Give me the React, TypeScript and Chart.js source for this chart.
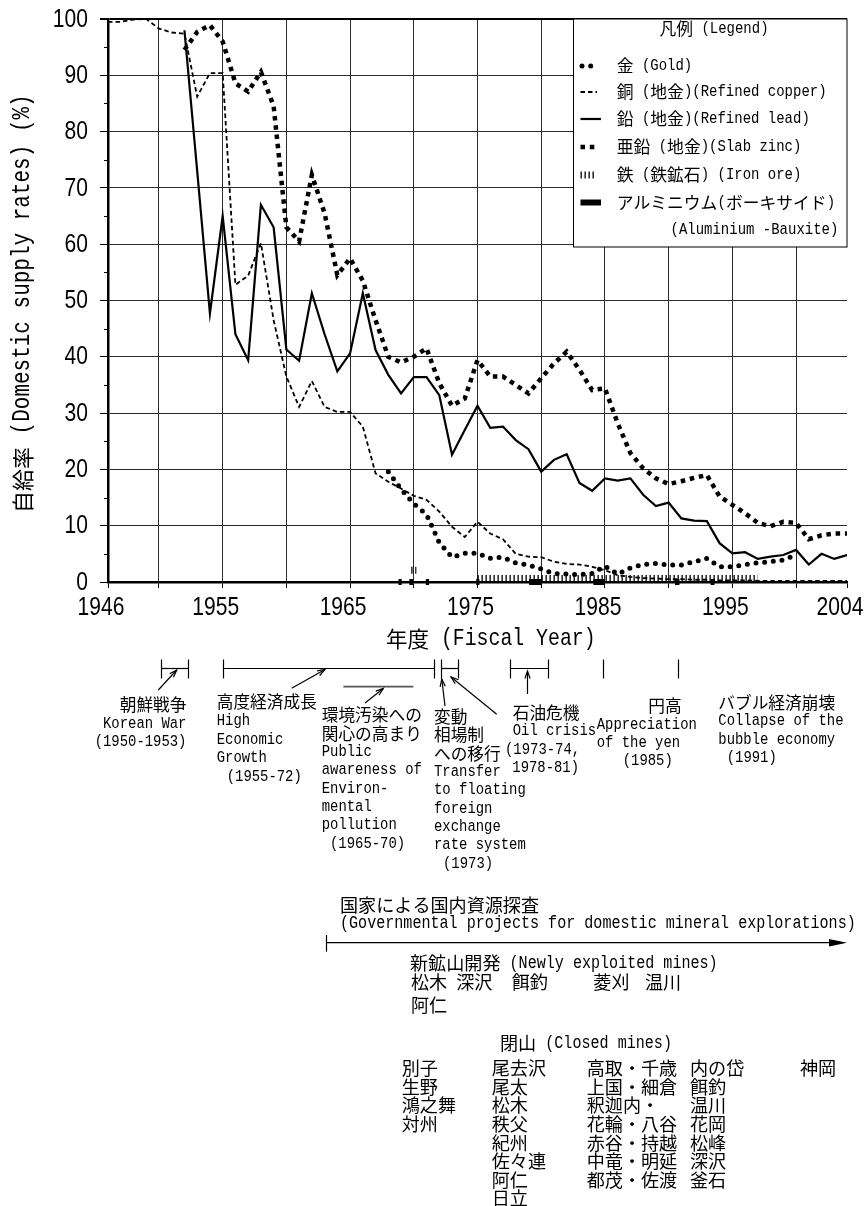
import React, { useEffect, useRef } from 'react';
import { Chart, registerables } from 'chart.js';

Chart.register(...registerables);

// Fiscal years on the x axis
const YEARS = [
  1946, 1947, 1948, 1949, 1950, 1951, 1952, 1953, 1954, 1955,
  1956, 1957, 1958, 1959, 1960, 1961, 1962, 1963, 1964, 1965,
  1966, 1967, 1968, 1969, 1970, 1971, 1972, 1973, 1974, 1975,
  1976, 1977, 1978, 1979, 1980, 1981, 1982, 1983, 1984, 1985,
  1986, 1987, 1988, 1989, 1990, 1991, 1992, 1993, 1994, 1995,
  1996, 1997, 1998, 1999, 2000, 2001, 2002, 2003, 2004,
];

// Domestic supply rates (%), one value per fiscal year (null = no data)
const GOLD = [
  null, null, null, null, null, null, null, null, null, null,
  null, null, null, null, null, null, null, null, null, null,
  null, null, 19.6, 16.5, 13.9, 12.0, 7.0, 4.4, 5.1, 5.1,
  4.2, 4.4, 3.4, 3.0, 2.3, 1.5, 1.4, 1.3, 1.5, 2.8,
  1.4, 2.5, 3.1, 3.3, 3.0, 3.0, 3.6, 4.2, 2.7, 2.7,
  3.1, 3.4, 3.6, 3.9, 4.8, null, null, null, null,
];

const COPPER = [
  99.5, 99.5, 99.9, 100, 98.3, 97.6, 97.4, 86.2, 90.4, 90.4,
  52.8, 54.4, 60.2, 46.5, 36.5, 31.1, 35.7, 31.1, 30.2, 30.2,
  27.6, 19.3, 17.8, 16.6, 15.3, 14.6, 12.5, 9.8, 8.0, 10.7,
  8.6, 7.6, 5.0, 4.5, 4.4, 3.6, 3.2, 3.1, 2.7, 2.1,
  1.2, 0.9, 0.7, 0.6, 0.5, 0.5, 0.4, 0.4, 0.3, 0.3,
  0.3, 0.2, 0.2, 0.2, 0.2, 0.2, 0.2, 0.2, 0.2,
];

const LEAD = [
  null, null, null, null, null, null, 98, 73, 47.7, 65,
  44, 39.4, 67, 63, 41.3, 39.3, 51.3, 44, 37.4, 40.6,
  51.3, 41.2, 36.8, 33.5, 36.4, 36.4, 33.2, 22.6, 27.0, 31.3,
  27.4, 27.6, 25.2, 23.6, 19.6, 21.7, 22.7, 17.6, 16.2, 18.4,
  18.0, 18.4, 15.5, 13.5, 14.1, 11.3, 10.9, 10.8, 6.9, 5.1,
  5.3, 4.1, 4.5, 4.8, 5.7, 3.1, 5.0, 4.1, 4.8,
];

const ZINC = [
  null, null, null, null, null, null, 94.5, 97.7, 98.9, 96,
  88.6, 87.1, 90.6, 84.5, 63, 60.5, 72.3, 65.5, 54.5, 57.5,
  53.5, 46.5, 40.0, 39.0, 40.0, 41.5, 35.3, 31.3, 32.6, 39.4,
  36.5, 36.5, 35.0, 33.5, 36.2, 38.8, 40.9, 37.7, 34.1, 34.4,
  28.2, 22.9, 20.2, 18.4, 17.4, 17.9, 18.5, 19.0, 15.2, 13.7,
  12.2, 10.5, 9.9, 10.7, 10.5, 7.6, 8.3, 8.6, 8.6,
];

// Iron ore: a short run around 1970 and a flat run 1975-1997
const IRON_YEARS = [
  1969.8, 1970.2, 1972,
  1975, 1976, 1977, 1978, 1979, 1980, 1981, 1982, 1983, 1984, 1985,
  1986, 1987, 1988, 1989, 1990, 1991, 1992, 1993, 1994, 1995, 1996, 1997,
];
const IRON_VALUES = [
  2.1, 2.1, null,
  0.6, 0.6, 0.6, 0.6, 0.6, 0.6, 0.6, 0.6, 0.6, 0.6, 0.6,
  0.6, 0.6, 0.6, 0.6, 0.6, 0.6, 0.6, 0.6, 0.6, 0.6, 0.6, 0.6,
];

// Aluminium (bauxite): rate is 0, drawn only over these fiscal-year spans
const ALUMINIUM_FROM = [1968.8, 1969.65, 1970.95, 1974.9, 1979.05, 1984.1, 1990.5, 1993.3];
const ALUMINIUM_TO = [1969.05, 1969.95, 1971.2, 1975.15, 1980.05, 1985.0, 1990.85, 1993.6];
const ALUMINIUM_VALUE = 0;

// Axis ticks
const X_TICKS = [1946, 1950, 1955, 1960, 1965, 1970, 1975, 1980, 1985, 1990, 1995, 2000, 2004];
const X_LABELED = [1946, 1955, 1965, 1975, 1985, 1995, 2004];
const Y_MINOR = [5, 15, 25, 35, 45, 55, 65, 75, 85, 95];

// Series names
const LABELS = [
  '金 (Gold)',
  '銅 (地金)(Refined copper)',
  '鉛 (地金)(Refined lead)',
  '亜鉛 (地金)(Slab zinc)',
  '鉄 (鉄鉱石) (Iron ore)',
  'アルミニウム(ボーキサイド)\n(Aluminium -Bauxite)',
];

// Event periods along the time line (fiscal years)
const KOREAN_WAR = [1950.16, 1952.3];
const HIGH_GROWTH = [1955.0, 1971.6];
const FLOATING_RATE = [1972.15, 1973.5];
const OIL_CRISIS = [1977.55, 1980.56];
const POLLUTION = [1964.47, 1969.96];
const YEN_MARK = 1984.83;
const BUBBLE_MARK = 1990.71;
const EXPLORATION = [1963.1, 2004];

// Text blocks below the axis: [text, x, y, align]
type TextItem = [string, number, number, ('left' | 'right' | 'center')?];
const EVENT_TEXT: TextItem[] = [
  ['朝鮮戦争', 186.5, 705, 'right'],
  ['Korean War', 186.5, 724, 'right'],
  ['(1950-1953)', 186.5, 742, 'right'],
  ['高度経済成長', 216.7, 702],
  ['High', 216.7, 721],
  ['Economic', 216.7, 739.5],
  ['Growth', 216.7, 758],
  ['(1955-72)', 226.7, 777],
  ['環境汚染への', 321.7, 715],
  ['関心の高まり', 321.7, 733.5],
  ['Public', 321.7, 752],
  ['awareness of', 321.7, 770],
  ['Environ-', 321.7, 788.5],
  ['mental', 321.7, 807],
  ['pollution', 321.7, 825],
  ['(1965-70)', 330, 843.5],
  ['変動', 434, 716.7],
  ['相場制', 434, 735],
  ['への移行', 434, 753.5],
  ['Transfer', 434, 772],
  ['to floating', 434, 790],
  ['foreign', 434, 808.5],
  ['exchange', 434, 827],
  ['rate system', 434, 845],
  ['(1973)', 443, 863.5],
  ['石油危機', 512.7, 712.7],
  ['Oil crisis', 512.7, 731],
  ['(1973-74,', 505, 750],
  ['1978-81)', 512.3, 768],
  ['円高', 648.3, 705.5],
  ['Appreciation', 596.7, 724.3],
  ['of the yen', 596.7, 742.7],
  ['(1985)', 622.7, 761],
  ['バブル経済崩壊', 718.3, 702.7],
  ['Collapse of the', 718.3, 721],
  ['bubble economy', 718.3, 739.3],
  ['(1991)', 726.7, 757.7],
];

const MINE_TEXT: TextItem[] = [
  ['国家による国内資源探査', 340, 905],
  ['(Governmental projects for domestic mineral explorations)', 340, 923],
  ['新鉱山開発 (Newly exploited mines)', 410, 963.3],
  ['松木 深沢', 411, 981.7],
  ['餌釣', 511.7, 981.7],
  ['菱刈', 593.3, 981.7],
  ['温川', 645, 981.7],
  ['阿仁', 411, 1005],
  ['閉山 (Closed mines)', 500, 1043.3],
];

const CLOSED_COLUMNS: { x: number; names: string[] }[] = [
  { x: 401.7, names: ['別子', '生野', '鴻之舞', '対州'] },
  { x: 491.7, names: ['尾去沢', '尾太', '松木', '秩父', '紀州', '佐々連', '阿仁', '日立'] },
  { x: 586.7, names: ['高取・千歳', '上国・細倉', '釈迦内・', '花輪・八谷', '赤谷・持越', '中竜・明延', '都茂・佐渡'] },
  { x: 690, names: ['内の岱', '餌釣', '温川', '花岡', '松峰', '深沢', '釜石'] },
  { x: 800, names: ['神岡'] },
];

const CJK = /[\u2E80-\u9FFF\uF900-\uFAFF\uFF00-\uFFEF\u3000-\u303F]/;
const LATIN_FAMILY = '"Liberation Mono", "DejaVu Sans Mono", monospace';
const CJK_FAMILY = '"Noto Sans CJK JP", "Noto Sans CJK SC", sans-serif';
const TICK_FAMILY = '"Liberation Sans", Arial, sans-serif';

// Half-width latin cells (unit wide) and full-width CJK cells, drawn run by run.
// Latin glyphs are set larger and squeezed into their cell.
function drawMixed(
  ctx: CanvasRenderingContext2D,
  text: string,
  x: number,
  y: number,
  unit: number,
  align: 'left' | 'right' | 'center' = 'left',
  cjkPx?: number,
) {
  const latinPx = unit * 2.0;
  const squeeze = unit / (0.6 * latinPx);
  const cjkSize = cjkPx ?? unit * 2;
  const runs: { t: string; cjk: boolean; w: number }[] = [];
  for (const ch of text) {
    const isCjk = CJK.test(ch);
    const last = runs[runs.length - 1];
    if (last && last.cjk === isCjk) last.t += ch;
    else runs.push({ t: ch, cjk: isCjk, w: 0 });
  }
  let total = 0;
  for (const r of runs) {
    r.w = Array.from(r.t).length * (r.cjk ? cjkSize : unit);
    total += r.w;
  }
  let cx = align === 'left' ? x : align === 'center' ? x - total / 2 : x - total;
  ctx.textAlign = 'left';
  ctx.textBaseline = 'middle';
  for (const r of runs) {
    if (r.cjk) {
      ctx.font = `${cjkSize.toFixed(2)}px ${CJK_FAMILY}`;
      ctx.fillText(r.t, cx, y);
    } else {
      ctx.save();
      ctx.translate(cx, y);
      ctx.scale(squeeze, 1);
      ctx.font = `${latinPx.toFixed(2)}px ${LATIN_FAMILY}`;
      ctx.fillText(r.t, 0, 0);
      ctx.restore();
    }
    cx += r.w;
  }
}

// Tall, narrow tick numerals
function drawTickLabel(ctx: CanvasRenderingContext2D, text: string, x: number, y: number, align: 'right' | 'center') {
  const squeeze = 0.81;
  ctx.font = `26px ${TICK_FAMILY}`;
  const w = ctx.measureText(text).width * squeeze;
  const left = align === 'right' ? x - w : x - w / 2;
  ctx.save();
  ctx.translate(left, y);
  ctx.scale(squeeze, 1);
  ctx.textAlign = 'left';
  ctx.textBaseline = 'middle';
  ctx.fillText(text, 0, 0);
  ctx.restore();
}

function seg(ctx: CanvasRenderingContext2D, x1: number, y1: number, x2: number, y2: number, w = 1) {
  ctx.lineWidth = w;
  ctx.beginPath();
  ctx.moveTo(x1, y1);
  ctx.lineTo(x2, y2);
  ctx.stroke();
}

function arrow(ctx: CanvasRenderingContext2D, x1: number, y1: number, x2: number, y2: number) {
  seg(ctx, x1, y1, x2, y2, 1.2);
  const a = Math.atan2(y2 - y1, x2 - x1);
  const len = 8;
  const spread = 0.33;
  ctx.beginPath();
  ctx.moveTo(x2 - len * Math.cos(a - spread), y2 - len * Math.sin(a - spread));
  ctx.lineTo(x2, y2);
  ctx.lineTo(x2 - len * Math.cos(a + spread), y2 - len * Math.sin(a + spread));
  ctx.stroke();
}

const sheetPlugin = {
  id: 'sheet',
  afterDraw(chart: any) {
    const ctx: CanvasRenderingContext2D = chart.ctx;
    const xs = chart.scales.x;
    const ys = chart.scales.y;
    const area = chart.chartArea;
    const px = (v: number) => xs.getPixelForValue(v);
    ctx.save();
    ctx.fillStyle = '#000';
    ctx.strokeStyle = '#000';
    ctx.setLineDash([]);

    // tick numerals
    for (const t of ys.ticks) {
      drawTickLabel(ctx, String(t.value), area.left - 20, ys.getPixelForValue(t.value) + 0.5, 'right');
    }
    for (const t of xs.ticks) {
      if (X_LABELED.includes(t.value)) drawTickLabel(ctx, String(t.value), px(t.value) - 7, 608, 'center');
    }

    // minor ticks on the y axis
    for (const v of Y_MINOR) {
      const y = Math.round(ys.getPixelForValue(v)) + 0.5;
      seg(ctx, area.left - 4, y, area.left, y, 1);
    }

    // legend box
    const lx = 573.5;
    const ly = area.top;
    const lw = area.right - lx;
    const lh = 228;
    ctx.fillStyle = '#fff';
    ctx.fillRect(lx, ly, lw, lh);
    ctx.lineWidth = 1;
    ctx.strokeRect(lx, ly, lw, lh);
    ctx.fillStyle = '#000';
    drawMixed(ctx, '凡例 (Legend)', 714, 29, 8.4, 'center');
    const rowY = [66, 92, 119, 147, 175, 202.5];
    chart.data.datasets.forEach((ds: any, i: number) => {
      const y = rowY[i];
      ctx.save();
      ctx.strokeStyle = ds.borderColor;
      ctx.lineWidth = ds.borderWidth;
      ctx.lineCap = ds.borderCapStyle || 'butt';
      ctx.setLineDash(ds.borderDash || []);
      ctx.beginPath();
      const x0 = i === 0 ? 582 : 580.5;
      const x1 = i === 2 || i === 5 ? 601 : i === 4 ? 596 : 597;
      ctx.moveTo(x0, y);
      ctx.lineTo(x1, y);
      ctx.stroke();
      ctx.restore();
      const parts = String(ds.label).split('\n');
      drawMixed(ctx, parts[0], 616.7, y, 8.4);
      if (parts[1]) drawMixed(ctx, parts[1], 838.5, 230, 8.4, 'right');
    });

    // axis titles
    drawMixed(ctx, '年度 (Fiscal Year)', 386, 639, 11.9, 'left', 21.5);
    ctx.save();
    ctx.translate(22.5, 513);
    ctx.rotate(-Math.PI / 2);
    drawMixed(ctx, '自給率 (Domestic supply rates) (%)', 0, 0, 12.6, 'left', 22);
    ctx.restore();

    // event brackets
    const top = 659.5;
    const bottom = 678.5;
    const mid = 668.5;
    const bracket = (span: number[]) => {
      const a = Math.round(px(span[0])) + 0.5;
      const b = Math.round(px(span[1])) + 0.5;
      seg(ctx, a, top, a, bottom, 1.2);
      seg(ctx, b, top, b, bottom, 1.2);
      seg(ctx, a, mid, b, mid, 1.2);
    };
    bracket(KOREAN_WAR);
    bracket(HIGH_GROWTH);
    bracket(FLOATING_RATE);
    bracket(OIL_CRISIS);
    const ym = Math.round(px(YEN_MARK)) + 0.5;
    seg(ctx, ym, top, ym, bottom, 1.2);
    const bm = Math.round(px(BUBBLE_MARK)) + 0.5;
    seg(ctx, bm, top, bm, bottom, 1.2);
    ctx.strokeStyle = '#555';
    seg(ctx, px(POLLUTION[0]), 686.7, px(POLLUTION[1]), 686.7, 1.8);
    ctx.strokeStyle = '#000';

    arrow(ctx, 158.3, 690, 176.7, 670);
    arrow(ctx, 291.7, 688.3, 325, 669.5);
    arrow(ctx, 365, 703, 383.3, 688.5);
    arrow(ctx, 445, 706, 441.8, 679);
    arrow(ctx, 496.7, 714.3, 451, 677);
    arrow(ctx, 527.5, 694, 527.5, 671);

    for (const [t, x, y, al] of EVENT_TEXT) drawMixed(ctx, t, x, y, 8.35, al || 'left');

    // exploration arrow
    const ex0 = Math.round(px(EXPLORATION[0])) + 0.5;
    const ex1 = px(EXPLORATION[1]);
    seg(ctx, ex0, 942.7, ex1 - 12, 942.7, 1.2);
    seg(ctx, ex0, 935, ex0, 951.7, 1.2);
    ctx.beginPath();
    ctx.moveTo(ex1, 942.7);
    ctx.lineTo(ex1 - 18, 939);
    ctx.lineTo(ex1 - 18, 946.4);
    ctx.closePath();
    ctx.fill();

    for (const [t, x, y, al] of MINE_TEXT) drawMixed(ctx, t, x, y, 9.05, al || 'left');
    for (const col of CLOSED_COLUMNS) {
      col.names.forEach((n, i) => drawMixed(ctx, n, col.x, 1068.3 + i * 18.6, 9.05));
    }
    ctx.restore();
  },
};

const toPoints = (vals: (number | null)[]) => YEARS.map((x, i) => ({ x, y: vals[i] }));

export default function App() {
  const ref = useRef<HTMLCanvasElement>(null);

  useEffect(() => {
    if (!ref.current) return;
    const common = { borderColor: '#000', pointRadius: 0, tension: 0, fill: false, spanGaps: false };
    const aluminiumPoints = ALUMINIUM_FROM.flatMap((f, i) => [
      { x: f, y: ALUMINIUM_VALUE },
      { x: ALUMINIUM_TO[i], y: ALUMINIUM_VALUE },
      { x: ALUMINIUM_TO[i], y: null },
    ]);
    const chart = new Chart(ref.current, {
      type: 'line',
      data: {
        datasets: [
          { ...common, label: LABELS[0], data: toPoints(GOLD), borderWidth: 5, borderDash: [0, 8.7], borderCapStyle: 'round' },
          { ...common, label: LABELS[1], data: toPoints(COPPER), borderWidth: 1.8, borderDash: [4.5, 3] },
          { ...common, label: LABELS[2], data: toPoints(LEAD), borderWidth: 2.2 },
          { ...common, label: LABELS[3], data: toPoints(ZINC), borderWidth: 4.5, borderDash: [4.5, 4.8] },
          { ...common, label: LABELS[4], data: IRON_YEARS.map((x, i) => ({ x, y: IRON_VALUES[i] })), borderWidth: 7, borderDash: [1.3, 2.7], clip: false },
          { ...common, label: LABELS[5], data: aluminiumPoints, borderWidth: 6, clip: false },
        ] as any,
      },
      options: {
        responsive: false,
        animation: false,
        devicePixelRatio: 1,
        events: [],
        layout: { padding: { top: 19, right: 18, left: 0, bottom: 0 } },
        plugins: { legend: { display: false }, tooltip: { enabled: false } },
        scales: {
          x: {
            type: 'linear',
            min: 1946,
            max: 2004,
            afterBuildTicks: (s: any) => {
              s.ticks = X_TICKS.map((v) => ({ value: v }));
            },
            afterFit: (s: any) => {
              s.height = 624;
              s.paddingLeft = 0;
              s.paddingRight = 0;
            },
            ticks: { display: false, autoSkip: false },
            grid: {
              color: (c: any) => (c.tick && (c.tick.value === 1946 || c.tick.value === 2004) ? 'rgba(0,0,0,0)' : '#2a2a2a'),
              lineWidth: 1,
              tickLength: 6,
              tickColor: '#000',
            },
            border: { color: '#000', width: 2.5 },
          },
          y: {
            min: 0,
            max: 100,
            afterFit: (s: any) => {
              s.width = 108;
              s.paddingTop = 0;
              s.paddingBottom = 0;
            },
            ticks: { display: false, stepSize: 10 },
            grid: {
              color: (c: any) => (c.tick && c.tick.value === 100 ? '#000' : '#2a2a2a'),
              lineWidth: (c: any) => (c.tick && c.tick.value === 100 ? 2 : 1),
              tickLength: 8,
              tickColor: '#000',
            },
            border: { color: '#000', width: 2.5 },
          },
        },
      } as any,
      plugins: [sheetPlugin],
    });
    return () => chart.destroy();
  }, []);

  return (
    <div style={{ position: 'absolute', left: 0, top: 0, width: 865, height: 1206, background: '#fff' }}>
      <canvas ref={ref} width={865} height={1206} style={{ display: 'block', width: 865, height: 1206 }} />
    </div>
  );
}
